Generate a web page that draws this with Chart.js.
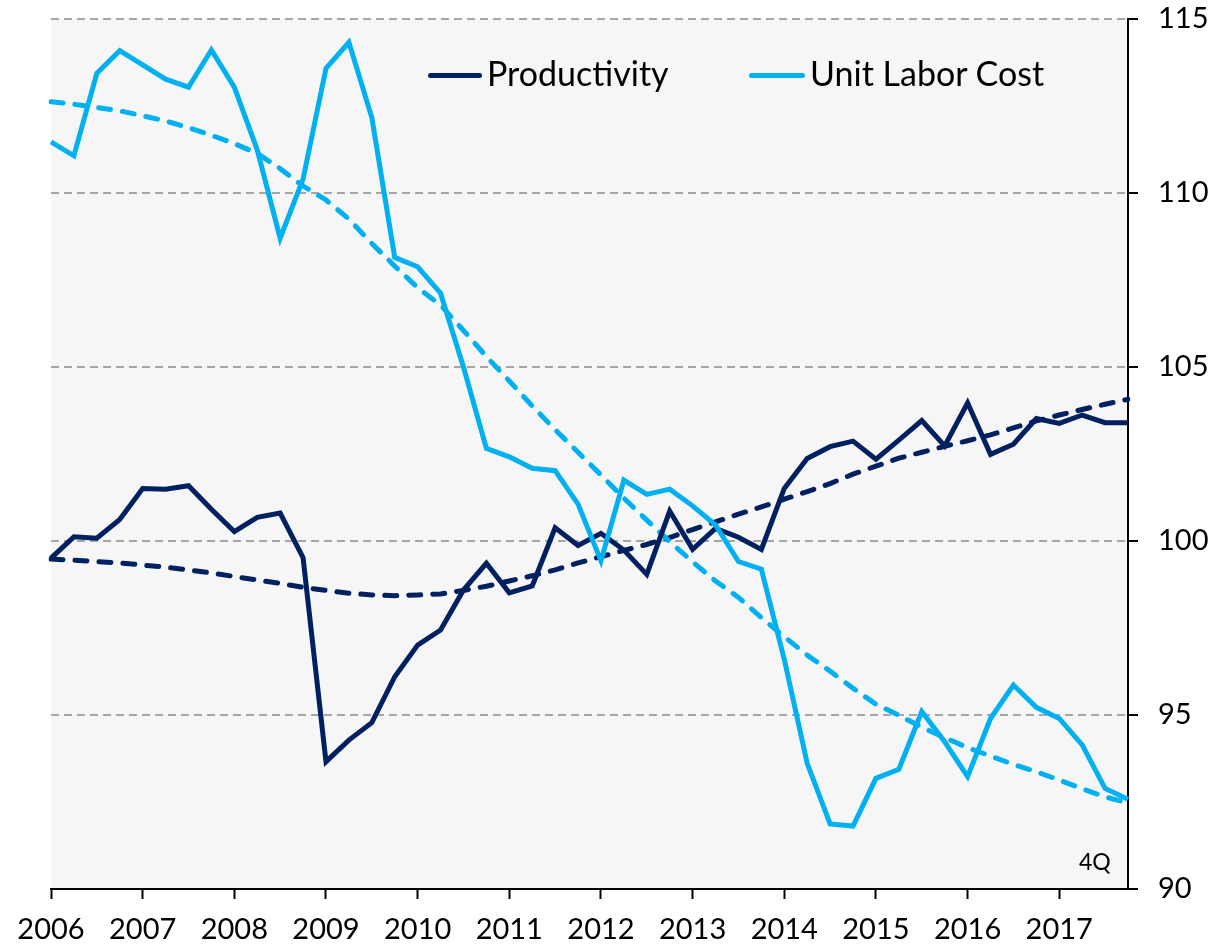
<!DOCTYPE html>
<html>
<head>
<meta charset="utf-8">
<script src="https://cdn.jsdelivr.net/npm/chart.js@4.4.1/dist/chart.umd.min.js"></script>
<style>
  html, body { margin: 0; padding: 0; background: #ffffff; }
  #wrap { position: relative; width: 1231px; height: 944px; overflow: hidden; }
  canvas { display: block; }
  .leg { position: absolute; font-family: Lato, "Open Sans", sans-serif; font-size: 34px; line-height: 34px; color: #000; white-space: nowrap; }
  .sw { position: absolute; height: 5px; border-radius: 2.5px; }
  .note { position: absolute; font-family: Lato, "Open Sans", sans-serif; font-size: 23px; line-height: 23px; color: #000; white-space: nowrap; }
</style>
</head>
<body>
<div id="wrap">
  <canvas id="c" width="1231" height="944"></canvas>
  <div class="sw" style="left:428px;top:72.5px;width:54px;background:#002060"></div>
  <span class="leg" style="left:487px;top:56px">Productivity</span>
  <div class="sw" style="left:749px;top:72.5px;width:56px;background:#00B0F0"></div>
  <span class="leg" style="left:810px;top:56px">Unit Labor Cost</span>
  <span class="note" style="left:1079px;top:850px">4Q</span>
</div>
<script>
const years = ['2006','2007','2008','2009','2010','2011','2012','2013','2014','2015','2016','2017'];
const quarterNames = ['Q1','Q2','Q3','Q4'];
const categories = [];
years.forEach(y => quarterNames.forEach(q => categories.push(y + q)));

const productivity = [99.51,100.12,100.08,100.62,101.51,101.49,101.59,100.91,100.27,100.68,100.80,99.52,
  93.66,94.28,94.78,96.10,97.01,97.44,98.59,99.36,98.51,98.71,100.38,99.87,
  100.22,99.74,99.04,100.86,99.76,100.36,100.11,99.76,101.51,102.37,102.71,102.87,
  102.35,102.90,103.46,102.73,103.97,102.49,102.78,103.52,103.38,103.62,103.40,103.40];

const unitLaborCost = [111.47,111.07,113.44,114.09,113.68,113.27,113.04,114.11,113.04,111.24,108.70,110.40,
  113.58,114.33,112.17,108.15,107.88,107.12,105.00,102.66,102.42,102.09,102.02,101.06,
  99.43,101.75,101.34,101.49,101.01,100.46,99.41,99.19,96.60,93.61,91.87,91.81,
  93.18,93.44,95.10,94.23,93.23,94.90,95.86,95.22,94.90,94.14,92.89,92.58];

const productivityTrend = [99.48,99.45,99.41,99.37,99.31,99.25,99.17,99.08,98.98,98.88,98.78,98.67,
  98.58,98.50,98.45,98.43,98.45,98.48,98.58,98.70,98.85,99.00,99.17,99.37,
  99.55,99.73,99.90,100.10,100.33,100.55,100.77,100.98,101.20,101.42,101.65,101.92,
  102.15,102.38,102.55,102.72,102.88,103.05,103.25,103.45,103.62,103.78,103.93,104.07];

const unitLaborCostTrend = [112.62,112.55,112.46,112.36,112.22,112.07,111.88,111.66,111.42,111.14,110.70,110.20,
  109.80,109.25,108.55,107.90,107.28,106.78,106.05,105.30,104.60,103.88,103.20,102.55,
  101.90,101.23,100.60,99.98,99.40,98.85,98.38,97.80,97.25,96.72,96.26,95.77,
  95.31,94.99,94.65,94.35,94.06,93.82,93.58,93.37,93.13,92.88,92.65,92.47];

const yMin = 90, yMax = 115, yStep = 5;

const plotBg = {
  id: 'plotBg',
  beforeDraw(chart) {
    const {ctx, chartArea: a} = chart;
    ctx.save();
    ctx.fillStyle = '#f6f6f6';
    ctx.fillRect(a.left, a.top, a.right - a.left, a.bottom - a.top);
    ctx.restore();
  }
};

new Chart(document.getElementById('c'), {
  type: 'line',
  data: {
    labels: categories,
    datasets: [
      { label: 'Productivity', data: productivity, borderColor: '#002060', borderWidth: 5, order: 2 },
      { label: 'Unit Labor Cost', data: unitLaborCost, borderColor: '#00B0F0', borderWidth: 5, order: 1 },
      { label: 'Productivity trend', data: productivityTrend, borderColor: '#002060', borderWidth: 5, borderDash: [12, 12], borderCapStyle: 'round', order: 4 },
      { label: 'Unit Labor Cost trend', data: unitLaborCostTrend, borderColor: '#00B0F0', borderWidth: 5, borderDash: [12, 12], borderCapStyle: 'round', order: 3 }
    ]
  },
  options: {
    responsive: false,
    animation: false,
    devicePixelRatio: 1,
    layout: { padding: { left: 51, top: 19, right: 0, bottom: 0 } },
    elements: { point: { radius: 0 }, line: { tension: 0, fill: false } },
    plugins: { legend: { display: false }, tooltip: { enabled: false } },
    scales: {
      x: {
        type: 'category',
        offset: false,
        grid: {
          display: true, drawOnChartArea: false, drawTicks: true, tickLength: 10, tickWidth: 2,
          tickColor: (c) => (c.index % 4 === 0 ? '#000000' : 'rgba(0,0,0,0)')
        },
        border: { display: true, color: '#000000', width: 2 },
        ticks: {
          autoSkip: false, maxRotation: 0, minRotation: 0, padding: 13, color: '#000000',
          font: { family: 'Lato', size: 29 },
          callback: (v, i) => (i % 4 === 0 ? years[i / 4] : '')
        },
        afterFit: (s) => { s.height = 55; s.paddingLeft = 0; s.paddingRight = 0; }
      },
      y: {
        position: 'right',
        min: yMin, max: yMax,
        ticks: { stepSize: yStep, padding: 20, color: '#000000', font: { family: 'Lato', size: 29 } },
        grid: { color: '#a6a6a6', lineWidth: 2, drawTicks: true, tickLength: 10, tickColor: '#000000', tickWidth: 2, tickBorderDash: [] },
        border: { display: true, color: '#000000', width: 2, dash: [8, 5] },
        afterFit: (s) => { s.width = 103; s.paddingTop = 0; s.paddingBottom = 0; }
      }
    }
  },
  plugins: [plotBg]
});
</script>
</body>
</html>
